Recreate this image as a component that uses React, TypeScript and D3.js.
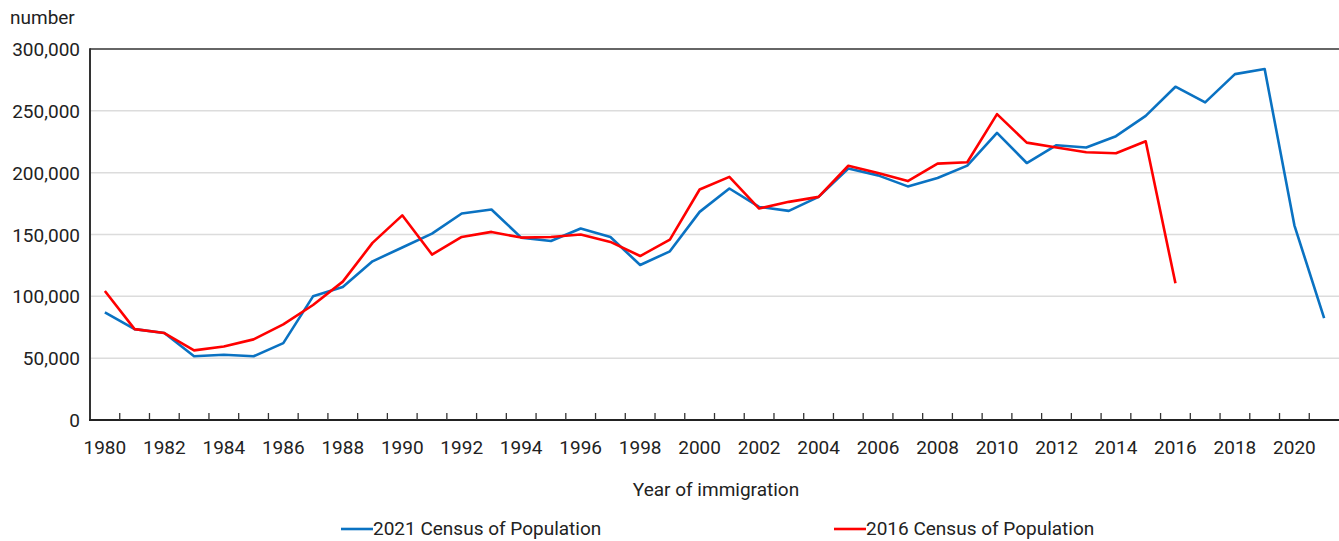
import React, { useEffect, useRef } from 'react';
import * as d3 from 'd3';

const years: number[] = [
  1980, 1981, 1982, 1983, 1984, 1985, 1986, 1987, 1988, 1989,
  1990, 1991, 1992, 1993, 1994, 1995, 1996, 1997, 1998, 1999,
  2000, 2001, 2002, 2003, 2004, 2005, 2006, 2007, 2008, 2009,
  2010, 2011, 2012, 2013, 2014, 2015, 2016, 2017, 2018, 2019,
  2020, 2021,
];

// 2021 Census, 1980-2021
const census2021: number[] = [
  87000, 73500, 70300, 51500, 52800, 51500, 62200, 100000, 107500, 128300,
  139500, 150700, 167000, 170200, 147500, 144800, 154800, 148000, 125300, 136400,
  168300, 187200, 172300, 169100, 180400, 203300, 197800, 188900, 195700, 205700,
  232200, 207800, 222200, 220300, 229500, 245900, 269500, 256800, 279700, 283800,
  157400, 82300,
];

// 2016 Census, 1980-2016
const census2016: number[] = [
  104300, 73500, 70300, 56300, 59500, 65200, 77300, 93000, 111900, 143200,
  165500, 133800, 148000, 152100, 147500, 148000, 150000, 144000, 132600, 145900,
  186400, 196600, 171000, 176400, 180400, 205600, 199700, 193200, 207300, 208400,
  247300, 224300, 220300, 216500, 215700, 225400, 110500,
];

const yTicks: number[] = [0, 50000, 100000, 150000, 200000, 250000, 300000];
const xTickLabels: number[] = [
  1980, 1982, 1984, 1986, 1988, 1990, 1992, 1994, 1996, 1998, 2000,
  2002, 2004, 2006, 2008, 2010, 2012, 2014, 2016, 2018, 2020,
];

const FONT = 'Roboto, "Liberation Sans", Arial, sans-serif';
const BLUE = '#0A72C2';
const RED = '#FF0000';

const App: React.FC = () => {
  const svgRef = useRef<SVGSVGElement>(null);

  useEffect(() => {
    if (!svgRef.current) return;
    const W = 1339;
    const H = 541;
    const left = 90;
    const right = 1339;
    const top = 49;
    const bottom = 420;

    const svg = d3.select(svgRef.current);
    svg.selectAll('*').remove();
    svg.attr('width', W).attr('height', H);

    const x = d3.scaleBand<number>().domain(years).range([left, right]).padding(0);
    const cx = (yr: number) => (x(yr) || 0) + x.bandwidth() / 2;
    const y = d3.scaleLinear().domain([0, 300000]).range([bottom, top]);

    // gridlines
    svg.append('g')
      .selectAll('line')
      .data(yTicks.filter(t => t > 0 && t < 300000))
      .enter()
      .append('line')
      .attr('x1', left)
      .attr('x2', right)
      .attr('y1', d => y(d))
      .attr('y2', d => y(d))
      .attr('stroke', '#dcdcdc')
      .attr('stroke-width', 1.5);

    // frame: top border, left axis, bottom axis
    svg.append('line')
      .attr('x1', left).attr('x2', right + 1)
      .attr('y1', top).attr('y2', top)
      .attr('stroke', '#333').attr('stroke-width', 1.5);
    svg.append('line')
      .attr('x1', left).attr('x2', left)
      .attr('y1', top - 0.75).attr('y2', bottom + 1)
      .attr('stroke', '#333').attr('stroke-width', 2);
    svg.append('line')
      .attr('x1', left - 1).attr('x2', right + 1)
      .attr('y1', bottom).attr('y2', bottom)
      .attr('stroke', '#222').attr('stroke-width', 2);

    // x ticks between bands
    svg.append('g')
      .selectAll('line')
      .data(years.slice(1))
      .enter()
      .append('line')
      .attr('x1', d => x(d) || 0)
      .attr('x2', d => x(d) || 0)
      .attr('y1', bottom)
      .attr('y2', bottom - 7)
      .attr('stroke', '#333')
      .attr('stroke-width', 1.3);

    // y labels
    svg.append('g')
      .selectAll('text')
      .data(yTicks)
      .enter()
      .append('text')
      .attr('x', left - 10)
      .attr('y', d => y(d) + 7)
      .attr('text-anchor', 'end')
      .style('font-family', FONT)
      .style('font-size', '19px')
      .style('fill', '#222')
      .text(d => d3.format(',')(d));

    // x labels
    svg.append('g')
      .selectAll('text')
      .data(xTickLabels)
      .enter()
      .append('text')
      .attr('x', d => cx(d))
      .attr('y', 454)
      .attr('text-anchor', 'middle')
      .style('font-family', FONT)
      .style('font-size', '19px')
      .style('fill', '#222')
      .text(d => String(d));

    svg.append('text')
      .attr('x', 10)
      .attr('y', 24)
      .style('font-family', FONT)
      .style('font-size', '19px')
      .style('fill', '#222')
      .text('number');

    svg.append('text')
      .attr('x', 716)
      .attr('y', 496)
      .attr('text-anchor', 'middle')
      .style('font-family', FONT)
      .style('font-size', '19px')
      .style('fill', '#222')
      .text('Year of immigration');

    const line = d3.line<number>()
      .x((_, i) => cx(years[i]))
      .y(d => y(d));

    svg.append('path')
      .datum(census2021)
      .attr('d', line)
      .attr('fill', 'none')
      .attr('stroke', BLUE)
      .attr('stroke-width', 2.6)
      .attr('stroke-linejoin', 'round');

    svg.append('path')
      .datum(census2016)
      .attr('d', line)
      .attr('fill', 'none')
      .attr('stroke', RED)
      .attr('stroke-width', 2.6)
      .attr('stroke-linejoin', 'round');

    // legend
    const legend = [
      { label: '2021 Census of Population', color: BLUE, x: 341 },
      { label: '2016 Census of Population', color: RED, x: 834 },
    ];
    const lg = svg.append('g');
    legend.forEach(l => {
      lg.append('line')
        .attr('x1', l.x).attr('x2', l.x + 32)
        .attr('y1', 529).attr('y2', 529)
        .attr('stroke', l.color).attr('stroke-width', 2.6);
      lg.append('text')
        .attr('x', l.x + 32)
        .attr('y', 535)
        .style('font-family', FONT)
        .style('font-size', '19px')
        .style('fill', '#222')
        .text(l.label);
    });
  }, []);

  return (
    <div style={{ position: 'absolute', left: 0, top: 0, background: '#fff' }}>
      <svg ref={svgRef} style={{ display: 'block' }} />
    </div>
  );
};

export default App;
